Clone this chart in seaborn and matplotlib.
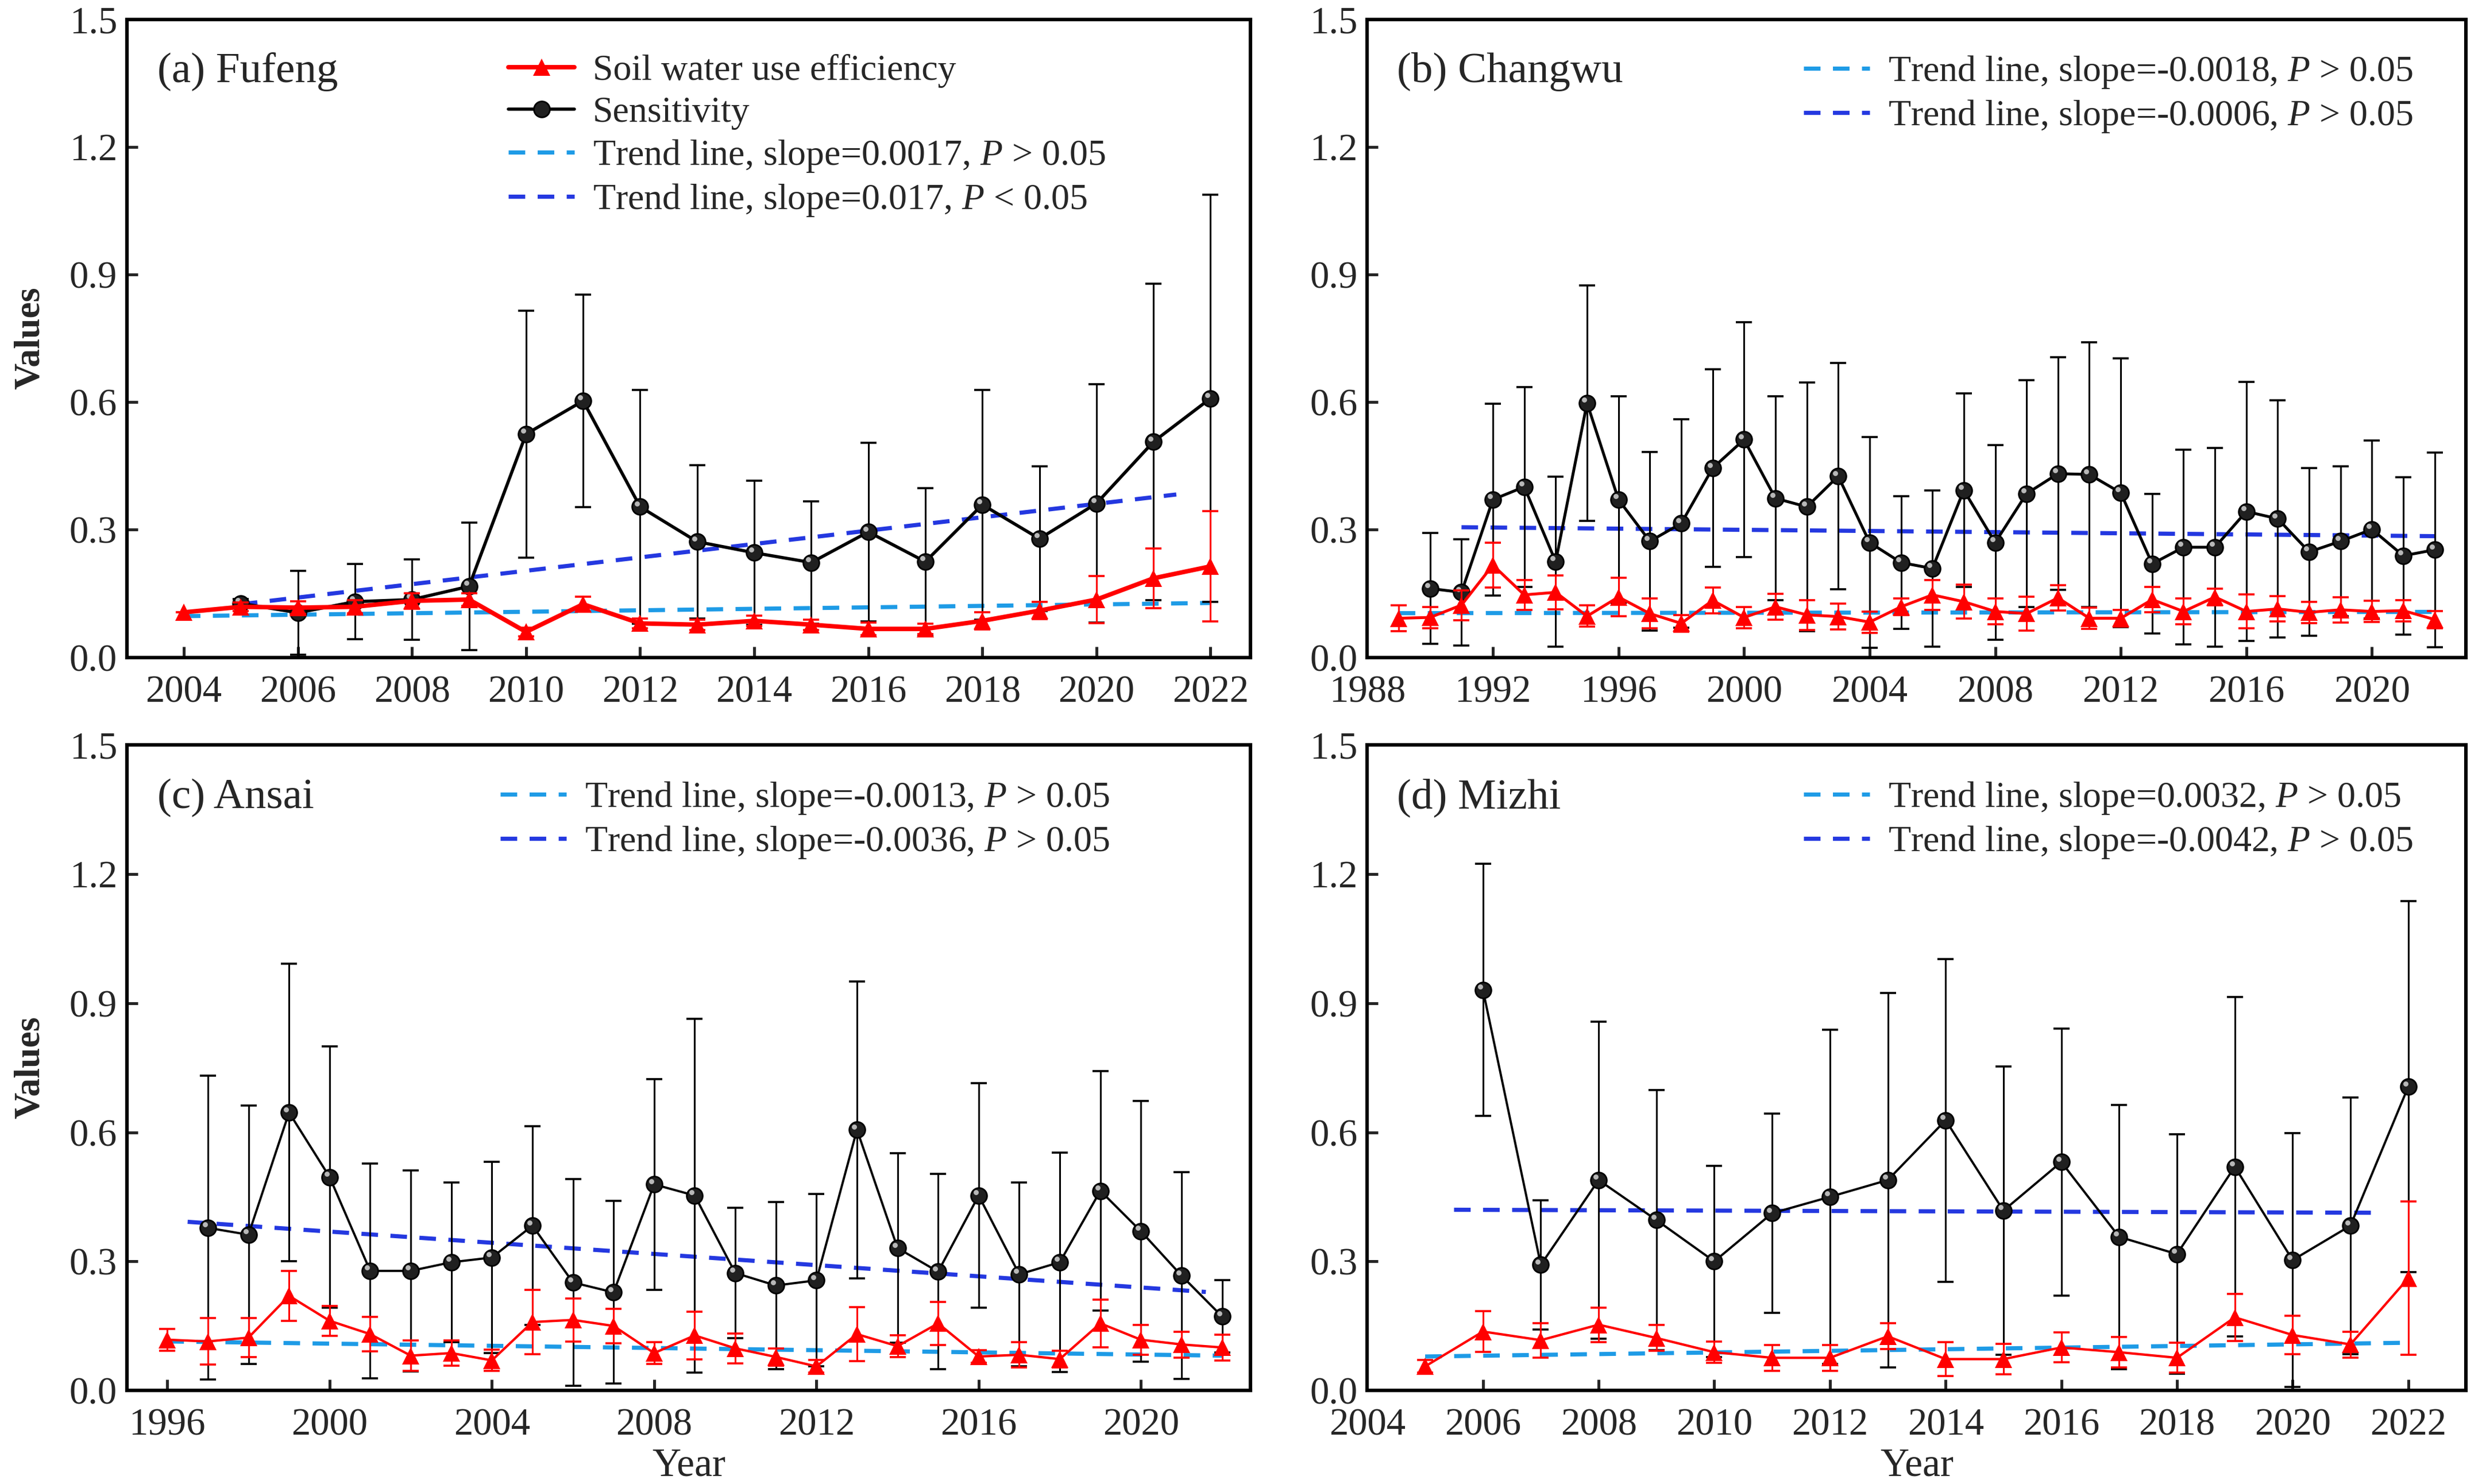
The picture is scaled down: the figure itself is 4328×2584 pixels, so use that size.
import numpy as np
import pandas as pd
import seaborn as sns
import matplotlib.pyplot as plt
import matplotlib.transforms as mtransforms

# ---- data ----
# (a) Fufeng
fufeng_swue_years = list(range(2004, 2023))
fufeng_swue = [0.106, 0.119, 0.117, 0.119, 0.133, 0.136, 0.060, 0.125, 0.080, 0.077,
               0.086, 0.077, 0.067, 0.067, 0.086, 0.110, 0.136, 0.186, 0.214]
fufeng_swue_err = [0.0, 0.010, 0.015, 0.015, 0.018, 0.015, 0.010, 0.018, 0.012, 0.012,
                   0.012, 0.012, 0.015, 0.012, 0.020, 0.020, 0.055, 0.070, 0.130]
fufeng_sens_years = list(range(2005, 2023))
fufeng_sens = [0.127, 0.105, 0.131, 0.136, 0.167, 0.525, 0.603, 0.354, 0.272, 0.246,
               0.223, 0.295, 0.225, 0.359, 0.279, 0.362, 0.507, 0.609]
fufeng_sens_err = [0.010, 0.098, 0.088, 0.095, 0.150, 0.290, 0.250, 0.275, 0.180, 0.170,
                   0.144, 0.210, 0.173, 0.270, 0.170, 0.280, 0.372, 0.479]
fufeng_trend_swue = ([2004, 2022], [0.097, 0.128])
fufeng_trend_sens = ([2005, 2021.4], [0.125, 0.383])

# (b) Changwu
changwu_swue_years = list(range(1989, 2023))
changwu_swue = [0.092, 0.094, 0.123, 0.217, 0.147, 0.153, 0.097, 0.142, 0.103, 0.080,
                0.134, 0.094, 0.119, 0.100, 0.096, 0.083, 0.119, 0.147, 0.131, 0.108,
                0.103, 0.140, 0.092, 0.092, 0.136, 0.108, 0.142, 0.108, 0.114, 0.106,
                0.112, 0.108, 0.110, 0.089]
changwu_swue_err = [0.030, 0.025, 0.035, 0.053, 0.035, 0.040, 0.025, 0.045, 0.035, 0.020,
                    0.030, 0.025, 0.030, 0.035, 0.030, 0.025, 0.020, 0.035, 0.040, 0.030,
                    0.040, 0.030, 0.025, 0.020, 0.030, 0.030, 0.020, 0.040, 0.030, 0.025,
                    0.030, 0.025, 0.025, 0.020]
changwu_sens_years = list(range(1990, 2023))
changwu_sens = [0.162, 0.153, 0.371, 0.401, 0.225, 0.598, 0.371, 0.273, 0.315, 0.445,
                0.512, 0.374, 0.354, 0.426, 0.270, 0.223, 0.209, 0.393, 0.270, 0.385,
                0.432, 0.430, 0.387, 0.220, 0.259, 0.259, 0.343, 0.326, 0.248, 0.273,
                0.301, 0.239, 0.253]
changwu_sens_err = [0.130, 0.125, 0.225, 0.235, 0.200, 0.277, 0.243, 0.210, 0.245, 0.232,
                    0.276, 0.240, 0.292, 0.266, 0.248, 0.156, 0.184, 0.228, 0.229, 0.267,
                    0.273, 0.311, 0.316, 0.164, 0.229, 0.234, 0.304, 0.279, 0.197, 0.176,
                    0.209, 0.185, 0.229]
changwu_trend_swue = ([1989, 2022], [0.104, 0.107])
changwu_trend_sens = ([1991, 2022], [0.306, 0.285])

# (c) Ansai
ansai_swue_years = list(range(1996, 2023))
ansai_swue = [0.118, 0.114, 0.123, 0.220, 0.162, 0.131, 0.081, 0.087, 0.070, 0.159,
              0.164, 0.150, 0.087, 0.128, 0.098, 0.078, 0.056, 0.131, 0.103, 0.156,
              0.079, 0.083, 0.073, 0.156, 0.118, 0.107, 0.100]
ansai_swue_err = [0.025, 0.054, 0.045, 0.058, 0.035, 0.040, 0.035, 0.030, 0.025, 0.075,
                  0.050, 0.040, 0.025, 0.055, 0.035, 0.020, 0.015, 0.063, 0.025, 0.050,
                  0.015, 0.030, 0.020, 0.055, 0.035, 0.030, 0.030]
ansai_sens_years = list(range(1997, 2023))
ansai_sens = [0.378, 0.362, 0.646, 0.496, 0.278, 0.278, 0.298, 0.309, 0.383, 0.251,
              0.228, 0.479, 0.453, 0.273, 0.244, 0.256, 0.606, 0.331, 0.276, 0.453,
              0.270, 0.298, 0.464, 0.370, 0.267, 0.172]
ansai_sens_err = [0.353, 0.300, 0.346, 0.304, 0.250, 0.234, 0.186, 0.222, 0.231, 0.240,
                  0.212, 0.245, 0.411, 0.151, 0.194, 0.200, 0.345, 0.220, 0.227, 0.261,
                  0.214, 0.255, 0.278, 0.303, 0.240, 0.084]
ansai_trend_swue = ([1996, 2022], [0.114, 0.081])
ansai_trend_sens = ([1996.5, 2021.6], [0.392, 0.229])

# (d) Mizhi
mizhi_swue_years = list(range(2005, 2023))
mizhi_swue = [0.056, 0.137, 0.117, 0.153, 0.122, 0.089, 0.076, 0.076, 0.126, 0.073,
              0.073, 0.100, 0.089, 0.076, 0.170, 0.129, 0.107, 0.261]
mizhi_swue_err = [0.015, 0.047, 0.040, 0.040, 0.030, 0.025, 0.030, 0.030, 0.030, 0.040,
                  0.035, 0.035, 0.035, 0.035, 0.055, 0.045, 0.030, 0.178]
mizhi_sens_years = list(range(2006, 2023))
mizhi_sens = [0.931, 0.292, 0.489, 0.396, 0.300, 0.412, 0.450, 0.489, 0.628, 0.418,
              0.531, 0.357, 0.317, 0.520, 0.303, 0.383, 0.706]
mizhi_sens_err = [0.293, 0.150, 0.368, 0.302, 0.222, 0.231, 0.388, 0.435, 0.375, 0.335,
                  0.310, 0.307, 0.278, 0.394, 0.295, 0.298, 0.431]
mizhi_trend_swue = ([2005, 2022], [0.079, 0.111])
mizhi_trend_sens = ([2005.5, 2021.5], [0.420, 0.413])

# legend labels / panel settings
panel_titles = ["(a) Fufeng", "(b) Changwu", "(c) Ansai", "(d) Mizhi"]
trend_labels = [
    [r"Trend line, slope=0.0017, $P$ > 0.05", r"Trend line, slope=0.017, $P$ < 0.05"],
    [r"Trend line, slope=-0.0018, $P$ > 0.05", r"Trend line, slope=-0.0006, $P$ > 0.05"],
    [r"Trend line, slope=-0.0013, $P$ > 0.05", r"Trend line, slope=-0.0036, $P$ > 0.05"],
    [r"Trend line, slope=0.0032, $P$ > 0.05", r"Trend line, slope=-0.0042, $P$ > 0.05"],
]

stations = [
    (fufeng_swue_years, fufeng_swue, fufeng_swue_err, fufeng_sens_years, fufeng_sens,
     fufeng_sens_err, fufeng_trend_swue, fufeng_trend_sens),
    (changwu_swue_years, changwu_swue, changwu_swue_err, changwu_sens_years, changwu_sens,
     changwu_sens_err, changwu_trend_swue, changwu_trend_sens),
    (ansai_swue_years, ansai_swue, ansai_swue_err, ansai_sens_years, ansai_sens,
     ansai_sens_err, ansai_trend_swue, ansai_trend_sens),
    (mizhi_swue_years, mizhi_swue, mizhi_swue_err, mizhi_sens_years, mizhi_sens,
     mizhi_sens_err, mizhi_trend_swue, mizhi_trend_sens),
]

# ---- style ----
sns.set_theme(style="ticks")
plt.rcParams['font.family'] = ['Liberation Serif', 'DejaVu Serif']
plt.rcParams['mathtext.fontset'] = 'custom'
plt.rcParams['mathtext.rm'] = 'Liberation Serif'
plt.rcParams['mathtext.it'] = 'Liberation Serif:italic'

RED = '#FF0000'
LIGHT_BLUE = '#1E9BE6'
DARK_BLUE = '#2438E0'

fig = plt.figure(figsize=(21.64, 12.92), dpi=200)
positions = [[0.051, 0.557, 0.452, 0.430],
             [0.550, 0.557, 0.442, 0.430],
             [0.051, 0.063, 0.452, 0.435],
             [0.550, 0.063, 0.442, 0.435]]
xlims = [(2003, 2022.7), (1988, 2023), (1995, 2022.7), (2004, 2023)]
xticks = [np.arange(2004, 2023, 2), np.arange(1988, 2021, 4),
          np.arange(1996, 2021, 4), np.arange(2004, 2023, 2)]
legend_anchor = [(0.32, 0.98), (0.377, 0.98), (0.313, 0.98), (0.377, 0.98)]
red_lw = [2.8, 1.8, 1.5, 1.5]
black_lw = [2.0, 1.8, 1.4, 1.4]

for i, (sy, sv, se, ky, kv, ke, tsw, tse) in enumerate(stations):
    ax = fig.add_axes(positions[i])
    swue_df = pd.DataFrame({'Year': sy, 'Value': sv})
    sens_df = pd.DataFrame({'Year': ky, 'Value': kv})

    # trend lines
    ax.plot(tsw[0], tsw[1], ls=(0, (4, 3)), lw=2.6, color=LIGHT_BLUE,
            label=trend_labels[i][0], zorder=2)
    ax.plot(tse[0], tse[1], ls=(0, (4, 3)), lw=2.6, color=DARK_BLUE,
            label=trend_labels[i][1], zorder=2)

    # sensitivity
    ax.errorbar(ky, kv, yerr=ke, fmt='none', ecolor='black', elinewidth=1.1,
                capsize=5, capthick=1.3, zorder=3)
    sns.lineplot(data=sens_df, x='Year', y='Value', ax=ax, color='black',
                 lw=black_lw[i], marker='o', markersize=10, markerfacecolor='#202020',
                 markeredgecolor='black', markeredgewidth=1.0, label='Sensitivity',
                 zorder=4)
    shine = mtransforms.offset_copy(ax.transData, fig=fig, x=-1.8, y=2.0, units='points')
    ax.plot(ky, kv, ls='none', marker='o', markersize=3.2, color='#b8b8b8',
            markeredgewidth=0, transform=shine, zorder=5)

    # soil water use efficiency
    ax.errorbar(sy, sv, yerr=se, fmt='none', ecolor=RED, elinewidth=1.1,
                capsize=5, capthick=1.3, zorder=6)
    sns.lineplot(data=swue_df, x='Year', y='Value', ax=ax, color=RED,
                 lw=red_lw[i], marker='^', markersize=11, markeredgewidth=0,
                 label='Soil water use efficiency', zorder=7)

    ax.set_xlim(*xlims[i])
    ax.set_ylim(0, 1.5)
    ax.set_xticks(xticks[i])
    ax.set_yticks(np.arange(0, 1.51, 0.3))
    ax.yaxis.set_major_formatter(plt.FormatStrFormatter('%.1f'))
    ax.tick_params(direction='in', length=7, width=1.8, labelsize=24)
    ax.tick_params(axis='x', pad=11)
    ax.tick_params(axis='y', pad=6)
    for sp in ax.spines.values():
        sp.set_linewidth(2.2)
        sp.set_color('black')
        sp.set_visible(True)

    ax.text(0.027, 0.918, panel_titles[i], transform=ax.transAxes, fontsize=27,
            va='center', ha='left')

    handles, labels = ax.get_legend_handles_labels()
    lookup = dict(zip(labels, handles))
    if i == 0:
        order = ['Soil water use efficiency', 'Sensitivity'] + trend_labels[i]
    else:
        order = trend_labels[i]
    ax.legend([lookup[k] for k in order], order, loc='upper left',
              bbox_to_anchor=legend_anchor[i], frameon=False, fontsize=23,
              handlelength=1.8, handletextpad=0.5, labelspacing=0.22,
              borderaxespad=0.2)

    if i in (0, 2):
        ax.set_ylabel('Values', fontsize=23, fontweight='bold', labelpad=14)
    else:
        ax.set_ylabel('')
    if i in (2, 3):
        ax.set_xlabel('Year', fontsize=25, labelpad=3)
    else:
        ax.set_xlabel('')

fig.savefig('out.png', dpi=200)
